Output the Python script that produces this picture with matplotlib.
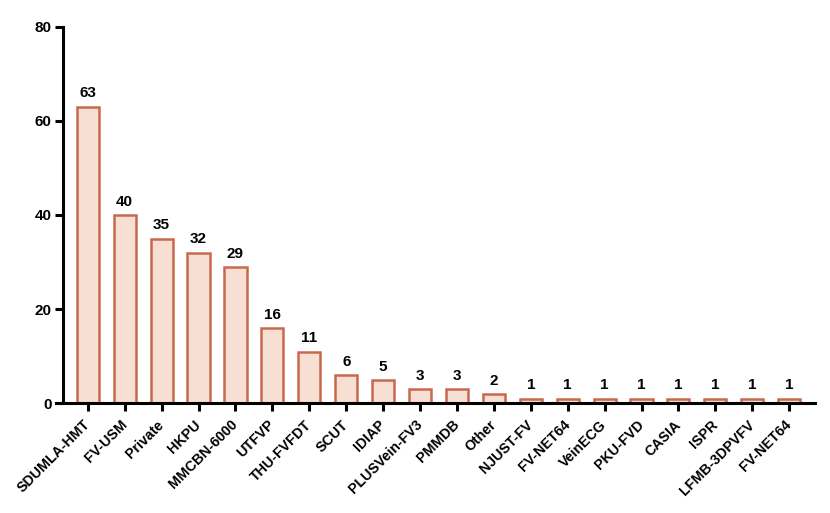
import matplotlib
matplotlib.use("Agg")
import matplotlib.pyplot as plt

datasets = ["SDUMLA-HMT", "FV-USM", "Private", "HKPU", "MMCBN-6000", "UTFVP", "THU-FVFDT",
            "SCUT", "IDIAP", "PLUSVein-FV3", "PMMDB", "Other", "NJUST-FV", "FV-NET64",
            "VeinECG", "PKU-FVD", "CASIA", "ISPR", "LFMB-3DPVFV", "FV-NET64"]
counts = [63, 40, 35, 32, 29, 16, 11, 6, 5, 3, 3, 2, 1, 1, 1, 1, 1, 1, 1, 1]
yticks = [0, 20, 40, 60, 80]

plt.rcParams['font.family'] = ['Liberation Sans', 'DejaVu Sans']
fig = plt.figure(figsize=(8.3, 5.13), dpi=100)
ax = fig.add_axes([62.7/830, (513-403.3)/513, (815-62.7)/830, (403.3-26.7)/513])

x = list(range(len(counts)))
ax.bar(x, counts, width=0.6, color='#F8DFD4', edgecolor='#C8694E', linewidth=1.8)
for xi, v in zip(x, counts):
    ax.annotate(str(v), (xi, v), xytext=(0, 4.5), textcoords='offset points',
                ha='center', va='bottom', fontsize=11, fontweight='bold')

ax.set_xlim(-0.68, 19.7)
ax.set_ylim(0, 80)
ax.set_yticks(yticks)
ax.set_xticks(x)
ax.set_xticklabels(datasets, rotation=45, ha='right', va='center', rotation_mode='anchor',
                   fontsize=10.2, fontweight='bold')
for lab in ax.get_yticklabels():
    lab.set_fontweight('bold')
    lab.set_fontsize(11)
ax.spines['top'].set_visible(False)
ax.spines['right'].set_visible(False)
for s in ['left', 'bottom']:
    ax.spines[s].set_linewidth(2.2)
ax.spines['bottom'].set_bounds(-0.87, 19.7)
ax.tick_params(axis='both', width=2.2, length=5.8)
ax.tick_params(axis='y', pad=2)
ax.tick_params(axis='x', pad=8)
fig.savefig('out.png', dpi=100)
